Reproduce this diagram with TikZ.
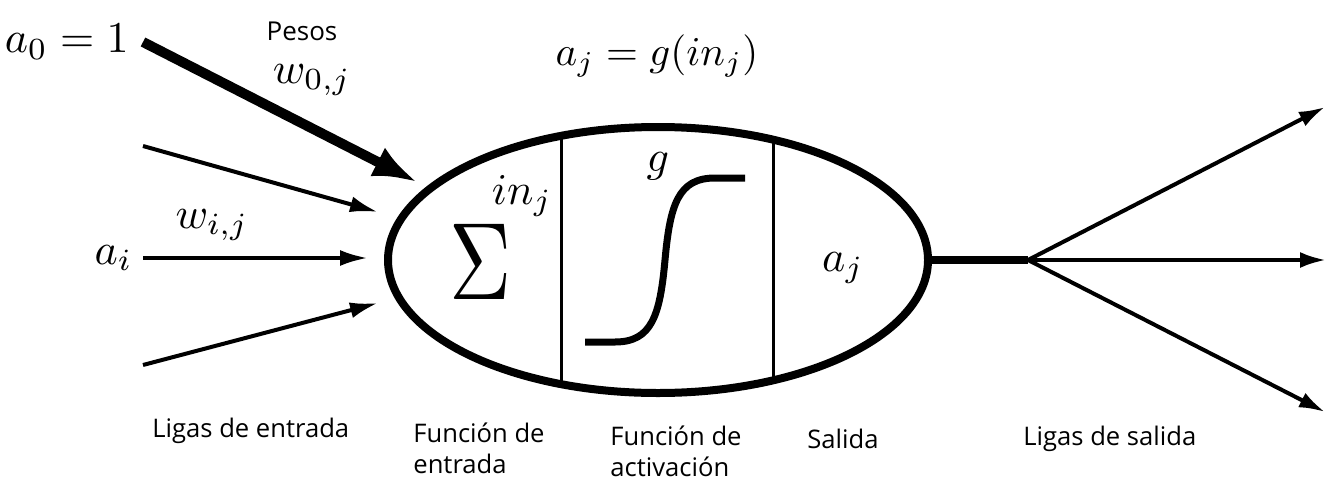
\documentclass[tikz,border=0pt]{standalone}
\usepackage{amsmath}
\usepackage[no-math]{fontspec}
\newfontfamily\labelfont{Open Sans}
\usepackage{tikz}
\usetikzlibrary{arrows.meta,shapes.geometric,positioning,calc}

\newcommand{\neuromath}[1]{\scalebox{2.2}{$#1$}}

\tikzset{
  mathlbl/.style={inner sep=0pt},
  txtlbl/.style={font=\labelfont\fontsize{12.8}{15.5}\selectfont, inner sep=0pt},
  inlink/.style={line width=2pt, -{Latex[length=14pt,width=8pt]}},
  biglink/.style={line width=5pt, -{Latex[length=22pt,width=16pt]}},
  outlink/.style={line width=2pt, -{Latex[length=13pt,width=8pt]}}
}

\begin{document}
\begin{tikzpicture}[x=0.5pt,y=-0.5pt]
    \useasboundingbox (0,0) rectangle (1326,482);

    % Neuron body and its three parts
    \node[draw, ellipse, line width=4pt, minimum width=270pt, minimum height=133pt, inner sep=0pt] (neuron) at (658,260) {};
    \draw[line width=1.5pt] (561,136) -- (561,384);
    \draw[line width=1.5pt] (773,140) -- (773,380);

    \node[mathlbl] (sum) at (481,262) {\scalebox{4.3}[5.5]{$\Sigma$}};
    \node[mathlbl] (inj) at (522,196) {\neuromath{in_j}};
    \node[mathlbl] (g) at (658,166) {\neuromath{g}};
    \draw[line width=3.5pt] (585,342) -- (615,342) .. controls (652,342) and (660,315) .. (665,260)
        .. controls (670,205) and (678,178) .. (715,178) -- (745,178);
    \node[mathlbl] (aj) at (843,268) {\neuromath{a_j}};
    \node[mathlbl] (rule) at (657,56) {\scalebox{2.05}{$a_j = g(in_j)$}};

    % Input links
    \node[mathlbl, inner xsep=7pt, anchor=east] (a0) at (143,42) {\neuromath{a_0 = 1}};
    \node[mathlbl, inner xsep=5pt, anchor=east] (ai) at (143,258) {\neuromath{a_i}};
    \coordinate (s1) at (143,146);
    \coordinate (s3) at (143,365);
    \coordinate (t0) at (417,182);
    \coordinate (t1) at (378,212);
    \coordinate (t2) at (368,258);
    \coordinate (t3) at (378,303);
    \draw[biglink] (a0.east) -- (t0);
    \draw[inlink] (s1) -- (t1);
    \draw[inlink] (ai.east) -- (t2);
    \draw[inlink] (s3) -- (t3);

    \node[txtlbl, font=\labelfont\fontsize{13}{15}\selectfont] (pesos) at (302,31) {Pesos};
    \node[mathlbl] (w0) at (312,80) {\neuromath{w_{0,j}}};
    \node[mathlbl] (wi) at (212,225) {\neuromath{w_{i,j}}};

    % Output links
    \coordinate (fork) at (1028,260);
    \coordinate (o1) at (1325,107);
    \coordinate (o2) at (1326,260);
    \coordinate (o3) at (1325,412);
    \draw[line width=4pt] (neuron.east) -- (fork);
    \draw[outlink] (fork) -- (o1);
    \draw[outlink] (fork) -- (o2);
    \draw[outlink] (fork) -- (o3);

    % Captions
    \node[txtlbl, anchor=base west] (inlabel) at (152,437) {Ligas de entrada};
    \node[txtlbl, anchor=north west, align=left] (sumlabel) at (413,422) {Función de\\entrada};
    \node[txtlbl, anchor=north west, align=left] (actlabel) at (610,425) {Función de\\activación};
    \node[txtlbl, anchor=base west] (outlabel) at (807,448) {Salida};
    \node[txtlbl, anchor=base west] (linklabel) at (1023,445) {Ligas de salida};
\end{tikzpicture}
\end{document}
